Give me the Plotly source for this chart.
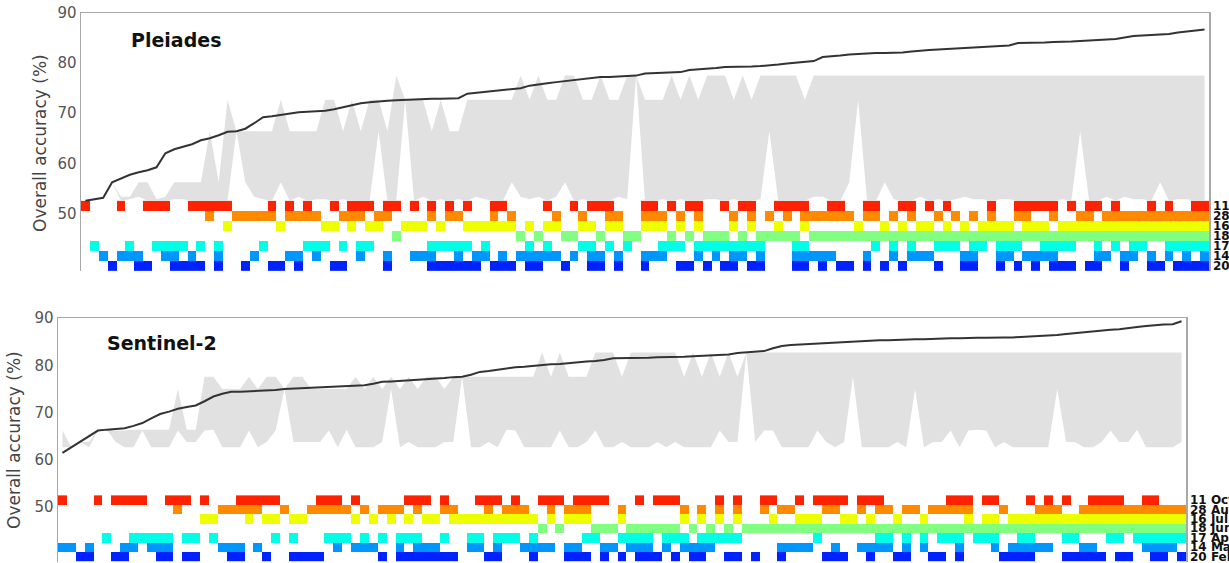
import plotly.graph_objects as go

DATES = ["11 Oct", "28 Aug", "16 Jul", "18 Jun", "17 Apr", "14 Mar", "20 Feb"]
COLORS = ["#ff2200", "#ff8a00", "#eeff00", "#80ff80", "#00ffe6", "#0096ff", "#0022ff"]
N_COMB = 127

# ---------------- Pleiades ----------------
PL_ACC = [52.5, 52.8, 53.1, 56.2, 57.0, 57.7, 58.2, 58.6, 59.2, 62.0,
          62.8, 63.3, 63.8, 64.6, 65.0, 65.6, 66.3, 66.4, 66.9, 68.0,
          69.2, 69.4, 69.7, 69.9, 70.2, 70.3, 70.4, 70.5, 70.8, 71.2,
          71.6, 72.0, 72.2, 72.4, 72.5, 72.6, 72.7, 72.8, 72.9, 72.9,
          72.9, 72.9, 73.0, 73.9, 74.1, 74.3, 74.4, 74.6, 74.8, 75.0,
          75.5, 75.8, 76.0, 76.2, 76.4, 76.7, 76.9, 77.1, 77.2, 77.2,
          77.3, 77.4, 77.5, 77.9, 78.0, 78.1, 78.2, 78.2, 78.6, 78.7,
          78.9, 79.0, 79.2, 79.2, 79.3, 79.3, 79.4, 79.5, 79.7, 79.9,
          80.1, 80.2, 80.4, 81.2, 81.3, 81.5, 81.7, 81.8, 82.0, 82.0,
          82.0, 82.0, 82.1, 82.3, 82.5, 82.6, 82.7, 82.8, 82.9, 83.0,
          83.1, 83.2, 83.3, 83.4, 83.5, 84.0, 84.0, 84.1, 84.1, 84.2,
          84.2, 84.3, 84.4, 84.5, 84.6, 84.7, 84.8, 85.1, 85.4, 85.5,
          85.6, 85.6, 85.8, 86.1, 86.3, 86.5, 86.7]
# single-date accuracies (Oct, Aug, Jul, Jun, Apr, Mar, Feb)
PL_SINGLE = [52.5, 66.4, 72.7, 77.5, 52.8, 53.3, 56.2]

PL_OCT = [0, 4, 7, 8, 9, 12, 13, 14, 15, 16, 21, 23, 25, 28, 30, 31, 32, 34, 35, 37, 39, 41, 43,
          46, 47, 52, 55, 57, 58, 59, 63, 64, 66, 68, 69, 72, 74, 75, 78, 79, 80, 81, 84, 85, 88,
          89, 92, 93, 95, 97, 102, 105, 106, 107, 108, 109, 111, 113, 114, 116, 120, 122, 125, 126]
PL_AUG = [14, 17, 18, 19, 20, 21, 23, 24, 25, 26, 29, 30, 31, 33, 34, 39, 41, 42, 46, 48, 53, 56,
          59, 60, 63, 64, 65, 67, 69, 73, 75, 77, 79, 81, 82, 83, 84, 85, 86, 88, 89, 91, 93, 96,
          98, 100, 102, 105, 106, 109, 112, 113, 115, 116, 117, 118, 119, 120, 121, 122, 123, 124,
          125, 126]
PL_JUL = [16, 22, 27, 28, 30, 32, 33, 36, 37, 38, 40, 43, 44, 45, 46, 47, 48, 50, 52, 53, 56, 57,
          59, 60, 63, 64, 65, 67, 69, 73, 75, 78, 81, 87, 90, 92, 94, 95, 97, 99, 101, 102, 103,
          104, 106, 107, 108, 110, 111, 112, 113, 114, 115, 116, 117, 118, 119, 120, 121, 122,
          123, 124, 125, 126]
PL_JUN = [35, 49, 51, 54, 55, 58, 61, 62, 66, 68, 70, 71, 72, 74, 76, 77, 78, 79, 80] + \
         list(range(82, 127))
PL_APR = [1, 5, 8, 9, 10, 11, 13, 15, 20, 25, 26, 27, 29, 31, 32, 39, 40, 41, 42, 43, 45, 50, 52,
          56, 57, 59, 61, 65, 66, 67, 69, 70, 71, 72, 73, 74, 75, 76, 80, 81, 89, 91, 93, 96, 97,
          98, 100, 101, 103, 104, 105, 108, 109, 110, 111, 114, 116, 118, 119, 122, 123, 124,
          125, 126]
PL_MAR = [2, 4, 5, 6, 9, 10, 12, 15, 19, 23, 24, 26, 31, 34, 37, 38, 39, 42, 44, 45, 47, 49, 50,
          51, 52, 53, 55, 57, 58, 60, 63, 64, 65, 69, 71, 73, 74, 76, 80, 81, 82, 83, 84, 88, 91,
          93, 94, 95, 99, 100, 103, 104, 106, 107, 108, 109, 114, 115, 117, 118, 120, 122, 124, 126]
PL_FEB = [3, 6, 7, 10, 11, 12, 13, 15, 18, 21, 22, 24, 28, 29, 34, 39, 40, 41, 42, 43, 44, 46, 47,
          48, 50, 51, 54, 57, 58, 60, 63, 67, 68, 70, 72, 73, 75, 76, 80, 81, 83, 85, 86, 88, 90,
          92, 96, 99, 100, 103, 105, 107, 109, 110, 111, 113, 114, 117, 120, 121, 123, 124, 125, 126]

# ---------------- Sentinel-2 ----------------
S2_ACC = [61.5, 62.7, 63.8, 65.0, 66.2, 66.4, 66.5, 66.7, 67.2, 67.8,
          68.8, 69.7, 70.2, 70.8, 71.2, 71.5, 72.4, 73.4, 74.0, 74.4,
          74.4, 74.5, 74.5, 74.6, 74.8, 75.0, 75.1, 75.2, 75.3, 75.3,
          75.4, 75.6, 75.7, 75.7, 75.8, 76.1, 76.5, 76.6, 76.7, 76.8,
          76.9, 77.0, 77.2, 77.3, 77.5, 77.6, 78.0, 78.6, 78.8, 79.1,
          79.4, 79.6, 79.7, 79.9, 80.0, 80.2, 80.3, 80.5, 80.6, 80.8,
          80.9, 81.1, 81.5, 81.5, 81.5, 81.6, 81.6, 81.7, 81.7, 81.8,
          81.8, 81.9, 82.0, 82.1, 82.2, 82.3, 82.6, 82.7, 82.9, 83.0,
          83.6, 84.1, 84.3, 84.4, 84.6, 84.7, 84.8, 84.9, 85.0, 85.1,
          85.2, 85.2, 85.3, 85.3, 85.4, 85.4, 85.5, 85.5, 85.6, 85.6,
          85.7, 85.7, 85.8, 85.8, 85.8, 85.9, 85.9, 85.9, 86.0, 86.0,
          86.1, 86.2, 86.4, 86.6, 86.8, 86.9, 87.1, 87.3, 87.5, 87.6,
          87.9, 88.1, 88.3, 88.5, 88.6, 88.7, 89.3]
S2_SINGLE = [66.2, 75.0, 77.6, 82.7, 66.4, 62.7, 63.8]

S2_OCT = [0, 4, 6, 7, 8, 9, 12, 13, 14, 16, 20, 21, 22, 23, 24, 29, 30, 31, 33, 39, 40, 41, 43,
          47, 48, 49, 51, 54, 55, 56, 58, 59, 60, 61, 65, 67, 68, 69, 74, 76, 79, 80, 83, 85, 86,
          87, 88, 90, 91, 92, 100, 101, 102, 104, 105, 109, 111, 113, 116, 117, 118, 119, 122, 123]
S2_AUG = [13, 18, 19, 20, 21, 22, 25, 28, 29, 30, 31, 32, 34, 36, 37, 38, 40, 43, 44, 48, 50, 51,
          52, 55, 57, 58, 59, 63, 70, 72, 74, 76, 79, 81, 82, 86, 87, 90, 92, 93, 95, 96, 98, 99,
          100, 101, 102, 106, 110, 111, 112] + list(range(115, 127))
S2_JUL = [16, 17, 21, 23, 24, 26, 27, 33, 35, 37, 39, 41, 42, 44, 45, 46, 47, 48, 49, 50, 51, 52,
          53, 55, 57, 58, 59, 63, 70, 72, 74, 76, 80, 83, 84, 85, 88, 89, 91, 94, 97, 102, 104,
          105] + list(range(107, 127))
S2_JUN = [54, 56, 60, 61, 62, 64, 65, 66, 67, 68, 69, 71, 73, 75] + list(range(77, 127))
S2_APR = [5, 8, 9, 10, 11, 12, 14, 15, 17, 24, 26, 30, 31, 32, 34, 36, 38, 39, 40, 43, 46, 47, 49,
          50, 51, 53, 59, 60, 63, 64, 65, 66, 68, 69, 70, 72, 73, 74, 75, 76, 85, 92, 93, 95, 97,
          99, 100, 101, 103, 104, 105, 108, 109, 113, 114, 118, 119, 121, 122, 123, 124, 125, 126]
S2_MAR = [0, 1, 3, 7, 8, 10, 11, 12, 18, 19, 20, 22, 31, 33, 34, 35, 38, 40, 41, 42, 46, 47, 49,
          52, 53, 54, 55, 57, 58, 61, 62, 64, 65, 66, 68, 70, 71, 72, 73, 81, 82, 83, 84, 87, 90,
          91, 92, 93, 95, 97, 101, 105, 107, 108, 109, 110, 111, 115, 116, 122, 123, 124, 125]
S2_FEB = [2, 3, 6, 7, 11, 12, 14, 15, 19, 20, 23, 26, 27, 28, 29, 36, 38, 39, 40, 41, 42, 43, 44,
          48, 49, 53, 57, 58, 59, 61, 63, 65, 66, 67, 69, 71, 72, 75, 76, 78, 81, 86, 87, 88, 91,
          94, 95, 98, 99, 101, 106, 107, 108, 109, 113, 114, 115, 116, 117, 119, 120, 123, 124, 126]

ROW_Y = [51.5, 49.5, 47.5, 45.5, 43.5, 41.5, 39.5]   # heatmap row centres (Oct at top)

W, H = 1229, 563


def px(x):
    return x / W


def py(y):
    return 1 - y / H


fig = go.Figure()


def add_panel(acc, single, sel_lists, xa, ya):
    xs = list(range(N_COMB))
    sets = [[d for d in range(7) if i in sel_lists[d]] for i in xs]
    lower = [min(single[d] for d in s) if s else None for s in sets]
    upper = [max(single[d] for d in s) if s else None for s in sets]
    fig.add_trace(go.Scatter(x=xs, y=lower, mode="lines", line=dict(width=0, color="#e1e1e1"),
                             showlegend=False, hoverinfo="skip", xaxis=xa, yaxis=ya))
    fig.add_trace(go.Scatter(x=xs, y=upper, mode="lines", line=dict(width=0, color="#e1e1e1"),
                             fill="tonexty", fillcolor="#e1e1e1",
                             showlegend=False, hoverinfo="skip", xaxis=xa, yaxis=ya))
    z, yv = [], []
    for d in reversed(range(7)):
        z.append([d if i in sel_lists[d] else None for i in xs])
        yv.append(ROW_Y[d])
    cs = [[k / 6.0, COLORS[k]] for k in range(7)]
    fig.add_trace(go.Heatmap(x=xs, y=yv, z=z, zmin=0, zmax=6, colorscale=cs, showscale=False,
                             hoverinfo="skip", xaxis=xa, yaxis=ya))
    fig.add_trace(go.Scatter(x=xs, y=acc, mode="lines", line=dict(color="#333333", width=2),
                             showlegend=False, xaxis=xa, yaxis=ya))


add_panel(PL_ACC, PL_SINGLE, [PL_OCT, PL_AUG, PL_JUL, PL_JUN, PL_APR, PL_MAR, PL_FEB], "x", "y")
add_panel(S2_ACC, S2_SINGLE, [S2_OCT, S2_AUG, S2_JUL, S2_JUN, S2_APR, S2_MAR, S2_FEB], "x2", "y2")

AX_COL = "#a8a8a8"
TICK_FONT = dict(family="DejaVu Sans", size=15, color="#555555")


def xaxis(left, right):
    return dict(domain=[px(left), px(right)], range=[-0.5, 126.5], side="top", showline=True,
                linecolor=AX_COL, linewidth=1.5, showticklabels=False, ticks="",
                showgrid=False, zeroline=False, fixedrange=True, automargin=False)


def yaxis(top_px, bot_px, anchor):
    return dict(domain=[py(bot_px), py(top_px)], range=[38.5, 90],
                tickvals=[50, 60, 70, 80, 90], ticks="", showline=True, mirror=True,
                linecolor=AX_COL, linewidth=1.5, showgrid=False, zeroline=False,
                tickfont=TICK_FONT, anchor=anchor, fixedrange=True, automargin=False,
                ticklabeloverflow="allow")


fig.update_layout(
    width=W, height=H, margin=dict(l=0, r=0, t=0, b=0, autoexpand=False),
    paper_bgcolor="white", plot_bgcolor="white", showlegend=False,
    xaxis=dict(xaxis(81, 1209), anchor="y"),
    yaxis=yaxis(13, 271, "x"),
    xaxis2=dict(xaxis(58, 1186), anchor="y2"),
    yaxis2=yaxis(318, 561.6, "x2"),
)

ann = []
ann.append(dict(text="<b>Pleiades</b>", x=px(176), y=py(40), xref="paper", yref="paper",
                xanchor="center", yanchor="middle", showarrow=False,
                font=dict(family="DejaVu Sans", size=19, color="#111111")))
ann.append(dict(text="<b>Sentinel-2</b>", x=px(162), y=py(343), xref="paper", yref="paper",
                xanchor="center", yanchor="middle", showarrow=False,
                font=dict(family="DejaVu Sans", size=19, color="#111111")))
for cx, cy in [(40, 143), (14, 440)]:
    ann.append(dict(text="Overall accuracy (%)", x=px(cx), y=py(cy), xref="paper",
                    yref="paper", textangle=-90, xanchor="center", yanchor="middle",
                    showarrow=False, font=dict(family="DejaVu Sans", size=17, color="#444444")))
for d in range(7):
    ann.append(dict(text="<b>" + DATES[d] + "</b>", x=px(1212), y=ROW_Y[d], xref="paper",
                    yref="y", xanchor="left", yanchor="middle", showarrow=False, borderpad=0,
                    font=dict(family="DejaVu Sans", size=12, color="#111111")))
    ann.append(dict(text="<b>" + DATES[d] + "</b>", x=px(1189), y=ROW_Y[d], xref="paper",
                    yref="y2", xanchor="left", yanchor="middle", showarrow=False, borderpad=0,
                    font=dict(family="DejaVu Sans", size=12, color="#111111")))
fig.update_layout(annotations=ann)

fig.write_html("out.html",
               config={"displayModeBar": False, "staticPlot": True},
               post_script="document.body.style.margin='0px';"
                           "document.body.style.overflow='hidden';")
